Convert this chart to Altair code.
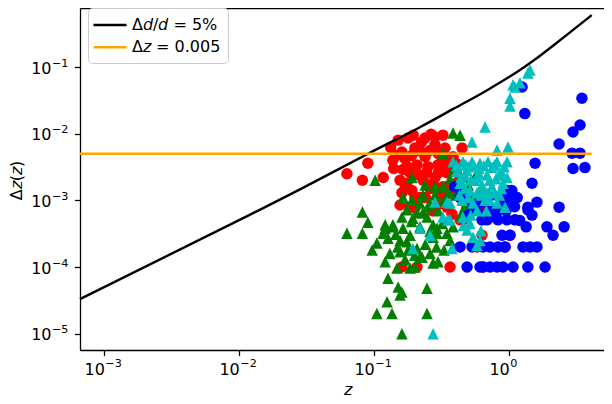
import altair as alt
import pandas as pd

# ---- data ----
red_z = [0.063, 0.082, 0.090, 0.117, 0.151, 0.179, 0.239, 0.283, 0.324, 0.138,
         0.161, 0.201, 0.239, 0.283, 0.336, 0.175, 0.208, 0.251, 0.298, 0.156,
         0.191, 0.231, 0.283, 0.161, 0.201, 0.156, 0.201, 0.347, 0.347, 0.449,
         0.164, 0.274, 0.324, 0.347, 0.185, 0.219, 0.347, 0.378, 0.456, 0.489,
         0.631, 0.687, 0.631, 1.017, 0.579, 0.934, 0.161, 0.208, 0.366, 0.642,
         0.324, 0.347, 0.642, 0.434, 0.385, 0.300,
         0.133, 0.145, 0.170, 0.190, 0.220, 0.260, 0.310, 0.185, 0.215, 0.245,
         0.300, 0.140, 0.175, 0.260, 0.300, 0.240, 0.170, 0.270, 0.310, 0.225,
         0.195, 0.265, 0.360, 0.400, 0.420, 0.380, 0.405]
red_dz = [0.0025, 0.0020, 0.0036, 0.0022, 0.0080, 0.0086, 0.0086, 0.0089, 0.0095, 0.0040,
          0.0053, 0.0061, 0.0045, 0.0068, 0.0061, 0.0032, 0.0034, 0.0032, 0.0034, 0.0020,
          0.0014, 0.0020, 0.0022, 0.0013, 0.0011, 0.00085, 0.00077, 0.0032, 0.0016, 0.0061,
          0.0029, 0.0018, 0.0016, 0.0013, 0.00079, 0.0011, 0.00079, 0.00062, 0.00051, 0.00079,
          0.00079, 0.00072, 0.00030, 0.00030, 0.00020, 0.00020, 0.00010, 0.00010, 0.00010, 0.00010,
          0.0036, 0.0026, 0.0012, 0.00051, 0.0045, 0.0050,
          0.0062, 0.0047, 0.0042, 0.0047, 0.0055, 0.0056, 0.0048, 0.0026, 0.0024, 0.0026,
          0.0026, 0.0030, 0.0018, 0.0015, 0.0012, 0.0011, 0.0015, 0.0007, 0.0009, 0.0075,
          0.0095, 0.0098, 0.0042, 0.0030, 0.0019, 0.0012, 0.0036]

green_z = [0.102, 0.385, 0.434, 0.324, 0.191, 0.239, 0.283, 0.324, 0.164, 0.191,
           0.219, 0.082, 0.090, 0.063, 0.082, 0.121, 0.138, 0.161, 0.117, 0.127,
           0.105, 0.097, 0.156, 0.175, 0.131, 0.156, 0.170, 0.121, 0.148, 0.185,
           0.201, 0.219, 0.208, 0.274, 0.298, 0.127, 0.151, 0.161, 0.156, 0.247,
           0.125, 0.105, 0.136, 0.247, 0.161, 0.194, 0.219, 0.247, 0.274, 0.293,
           0.347, 0.366, 0.385, 0.175, 0.208, 0.121, 0.138, 0.164, 0.179, 0.227,
           0.293, 0.274, 0.434, 0.579, 0.541, 0.366, 0.412, 0.283, 0.251,
           0.230, 0.260, 0.300, 0.330, 0.360, 0.400, 0.190, 0.230, 0.260, 0.320,
           0.145, 0.185, 0.240, 0.290, 0.330, 0.150, 0.200, 0.260, 0.420, 0.390,
           0.460, 0.500, 0.470, 0.440]
green_dz = [0.0020, 0.0102, 0.0095, 0.0051, 0.0022, 0.0017, 0.0016, 0.0016, 0.0011, 0.0010,
            0.00091, 0.00067, 0.00047, 0.00032, 0.00032, 0.00043, 0.00043, 0.00056, 0.00032, 0.00027,
            0.00023, 0.00018, 0.00025, 0.00024, 0.00016, 0.00017, 0.00013, 0.00012, 0.000097, 0.000097,
            0.00010, 0.00014, 0.00019, 0.000115, 0.00012, 0.000068, 0.000050, 0.000042, 0.000038, 0.000048,
            0.000030, 0.000020, 0.000020, 0.000020, 0.000010, 0.00054, 0.00040, 0.00056, 0.00043, 0.00032,
            0.00032, 0.00025, 0.00040, 0.00072, 0.00065, 0.00038, 0.00040, 0.00038, 0.00018, 0.00014,
            0.00038, 0.00028, 0.0019, 0.0026, 0.0011, 0.0021, 0.0018, 0.0012, 0.0008,
            0.0012, 0.0009, 0.0007, 0.0010, 0.0013, 0.0012, 0.00048, 0.00065, 0.00034, 0.00045,
            0.00031, 0.00030, 0.00022, 0.00020, 0.00018, 0.00020, 0.00015, 0.00016, 0.0028, 0.0030,
            0.0022, 0.0017, 0.0008, 0.0006]

blue_z = [3.47, 3.36, 2.98, 2.35, 2.93, 3.36, 2.98, 3.65, 1.31, 1.25,
          1.56, 1.48, 1.61, 1.38, 1.48, 2.35, 1.34, 1.91, 2.12, 2.56,
          0.888, 1.017, 0.687, 0.829, 0.967, 1.108,
          0.434, 0.532, 0.642, 0.723, 0.829, 0.934, 1.27, 1.43, 1.61,
          0.489, 0.610, 0.642, 0.723, 0.815, 0.903, 1.071, 1.38, 1.85,
          0.412, 0.489, 0.541, 0.631, 0.723, 0.858, 1.017, 1.05, 0.434, 0.456,
          0.967, 0.903, 0.723, 0.541, 0.80, 1.38, 0.398,
          0.60, 0.75, 0.90, 0.50, 0.65, 0.95, 1.10, 1.20, 1.15]
blue_dz = [0.034, 0.0135, 0.0106, 0.0070, 0.0051, 0.0051, 0.0030, 0.0031, 0.020, 0.050,
           0.0036, 0.0018, 0.00094, 0.00079, 0.00060, 0.00079, 0.00040, 0.00040, 0.00030, 0.00040,
           0.00030, 0.00030, 0.00051, 0.00051, 0.00051, 0.00051,
           0.0002, 0.0002, 0.0002, 0.0002, 0.0002, 0.0002, 0.0002, 0.0002, 0.0002,
           0.0001, 0.0001, 0.0001, 0.0001, 0.0001, 0.0001, 0.0001, 0.0001, 0.0001,
           0.0016, 0.0010, 0.00072, 0.00051, 0.00056, 0.00079, 0.0010, 0.0014, 0.0011, 0.0013,
           0.0014, 0.00079, 0.00079, 0.00079, 0.00063, 0.00072, 0.0016,
           0.0009, 0.0012, 0.0011, 0.0006, 0.00062, 0.0007, 0.0008, 0.0005, 0.0011]

cyan_z = [1.017, 1.017, 1.071, 1.206, 1.108, 1.38, 1.43, 0.664, 0.532, 0.815, 0.983,
          0.385, 0.456, 0.532, 0.610, 0.699, 0.815, 0.967,
          0.412, 0.489, 0.579, 0.687, 0.858, 0.967,
          0.434, 0.514, 0.631, 0.748, 0.903,
          0.449, 0.541, 0.664, 0.815, 0.934,
          0.283, 0.366, 0.324, 0.353, 0.219, 0.260, 0.489, 0.541, 0.610, 0.378,
          0.579, 0.194, 0.274, 0.347, 0.456, 0.514, 0.366,
          0.50, 0.75, 0.60, 0.56, 0.70, 0.62, 0.85, 0.47,
          0.41, 0.48, 0.55, 0.65, 0.78, 0.92, 0.44, 0.52, 0.60, 0.72,
          0.80, 0.90, 0.47, 0.58, 0.66, 0.78, 0.88, 0.50, 0.72, 0.58,
          0.68, 0.52, 0.46, 0.62, 0.43]
cyan_dz = [0.026, 0.034, 0.054, 0.058, 0.050, 0.081, 0.090, 0.0126, 0.0075, 0.0057, 0.0063,
           0.0038, 0.0038, 0.0038, 0.0036, 0.0038, 0.0038, 0.0038,
           0.0027, 0.0028, 0.0022, 0.0024, 0.0026, 0.0022,
           0.0018, 0.0014, 0.0017, 0.0016, 0.0018,
           0.0010, 0.00091, 0.0010, 0.00091, 0.00079,
           0.00094, 0.00091, 0.00056, 0.00051, 0.00038, 0.00030, 0.00036, 0.00028, 0.00025, 0.00019,
           0.00021, 0.00019, 0.000010, 0.00094, 0.00056, 0.00045, 0.00051,
           0.0032, 0.0031, 0.0030, 0.0020, 0.0013, 0.0012, 0.0012, 0.0024,
           0.0033, 0.0034, 0.0033, 0.0033, 0.0034, 0.0032, 0.0022, 0.0020, 0.0025, 0.0020,
           0.0021, 0.0024, 0.0015, 0.0013, 0.0014, 0.0013, 0.0015, 0.0011, 0.0010, 0.0007,
           0.0007, 0.0006, 0.00042, 0.00035, 0.0012]

dd_z = [0.000664, 0.0121, 0.0283, 0.0903, 0.219, 0.387, 0.684, 1.206, 1.604, 2.13, 2.83, 4.1]
dd_dz = [3.3e-5, 6.1e-4, 0.00146, 0.0050, 0.0125, 0.0235, 0.0445, 0.0902, 0.135, 0.21,
         0.33, 0.60]
thr_z = [0.000664, 4.1]
thr_dz = [0.005, 0.005]

LAB_DD = "Δ𝘥/𝘥 = 5%"
LAB_THR = "Δ𝘻 = 0.005"

x_major = [1e-3, 1e-2, 1e-1, 1.0]
x_exp = ["−3", "−2", "−1", "0"]
y_major = [1e-5, 1e-4, 1e-3, 1e-2, 1e-1]
y_exp = ["−5", "−4", "−3", "−2", "−1"]
X_DOMAIN = [6.64e-4, 5.055]
Y_DOMAIN = [5.69e-6, 0.767]
x_minor = [m * 10.0 ** e for e in range(-4, 1) for m in range(2, 10)
           if X_DOMAIN[0] <= m * 10.0 ** e <= X_DOMAIN[1]]
y_minor = [m * 10.0 ** e for e in range(-6, 0) for m in range(2, 10)
           if Y_DOMAIN[0] <= m * 10.0 ** e <= Y_DOMAIN[1]]

# ---- tables ----
red = pd.DataFrame({"z": red_z, "dz": red_dz})
green = pd.DataFrame({"z": green_z, "dz": green_dz})
blue = pd.DataFrame({"z": blue_z, "dz": blue_dz})
cyan = pd.DataFrame({"z": cyan_z, "dz": cyan_dz})
lines = pd.concat([
    pd.DataFrame({"z": dd_z, "dz": dd_dz, "series": LAB_DD}),
    pd.DataFrame({"z": thr_z, "dz": thr_dz, "series": LAB_THR}),
])
xexp = pd.DataFrame({"v": x_major, "t": x_exp})
yexp = pd.DataFrame({"v": y_major, "t": y_exp})

FONT = "DejaVu Sans"
FS = 16
SUP = 11.2
W, H = 524, 342
xs = alt.Scale(type="log", domain=X_DOMAIN, nice=False, zero=False)
ys = alt.Scale(type="log", domain=Y_DOMAIN, nice=False, zero=False)

ax_x_major = alt.Axis(values=x_major, labelExpr="'10'", tickSize=5.6, tickWidth=1.28,
                      tickColor="black", domainColor="black", domainWidth=1.28,
                      labelColor="black", labelFont=FONT, labelFontSize=FS,
                      labelAlign="right", labelBaseline="alphabetic", labelOffset=0.3,
                      labelPadding=18.4, labelFlush=False, labelOverlap=False, grid=False,
                      title="𝘻", titleFont=FONT, titleFontSize=FS, titleFontWeight="normal",
                      titleColor="black", titleX=267, titleY=44, titleAlign="center",
                      titleBaseline="alphabetic")
ax_x_minor = alt.Axis(values=x_minor, tickSize=3.2, tickWidth=0.96, tickColor="black",
                      labels=False, domain=False, grid=False, title=None)
ax_x_top = alt.Axis(orient="top", ticks=False, labels=False, domain=True,
                    domainColor="black", domainWidth=1.28, grid=False, title=None)
ax_y_major = alt.Axis(values=y_major, labelExpr="'10'", tickSize=5.6, tickWidth=1.28,
                      tickColor="black", domainColor="black", domainWidth=1.28,
                      labelColor="black", labelFont=FONT, labelFontSize=FS,
                      labelAlign="right", labelBaseline="alphabetic", labelOffset=6.3,
                      labelPadding=23.4, labelFlush=False, labelOverlap=False, grid=False,
                      title="Δ𝘻(𝘻)", titleFont=FONT, titleFontSize=FS,
                      titleFontWeight="normal", titleColor="black", titleX=-59, titleY=172,
                      titleAngle=270, titleAlign="center", titleBaseline="alphabetic")
ax_y_minor = alt.Axis(values=y_minor, tickSize=3.2, tickWidth=0.96, tickColor="black",
                      labels=False, domain=False, grid=False, title=None)

TRI = "M0,-1L1,1L-1,1Z"


def scatter(df, color, shape, axx, axy):
    return alt.Chart(df).mark_point(filled=True, shape=shape, size=132, color=color,
                                    opacity=1, strokeWidth=0).encode(
        x=alt.X("z:Q", scale=xs, axis=axx),
        y=alt.Y("dz:Q", scale=ys, axis=axy),
    )


l_red = scatter(red, "#ff0000", "circle", ax_x_major, ax_y_major)
l_green = scatter(green, "#008000", TRI, ax_x_minor, ax_y_minor)
l_blue = scatter(blue, "#0000ff", "circle", ax_x_top, None)
l_cyan = scatter(cyan, "#00bfbf", TRI, None, None)

l_lines = alt.Chart(lines).mark_line(strokeWidth=2.4, interpolate="monotone").encode(
    x=alt.X("z:Q", scale=xs, axis=None),
    y=alt.Y("dz:Q", scale=ys, axis=None),
    color=alt.Color("series:N",
                    scale=alt.Scale(domain=[LAB_DD, LAB_THR], range=["black", "orange"]),
                    legend=alt.Legend(title=None, orient="none", legendX=8, legendY=0,
                                      padding=7.5, symbolType="M-2,0H2", symbolSize=272,
                                      symbolStrokeWidth=2.4, symbolOffset=5,
                                      labelOffset=12.5, labelFont=FONT, labelFontSize=FS,
                                      labelColor="black", rowPadding=4.2,
                                      strokeColor="#cccccc", fillColor="white",
                                      cornerRadius=4)),
)

# superscript exponents of the tick labels
l_xexp = alt.Chart(xexp).mark_text(align="left", baseline="alphabetic", font=FONT,
                                   fontSize=SUP, color="black", dx=1.3).encode(
    x=alt.X("v:Q", scale=xs, axis=None),
    y=alt.value(H + 17.4),
    text="t:N",
)
l_yexp = alt.Chart(yexp).mark_text(align="left", baseline="alphabetic", font=FONT,
                                   fontSize=SUP, color="black", dy=-0.3).encode(
    y=alt.Y("v:Q", scale=ys, axis=None),
    x=alt.value(-28),
    text="t:N",
)

chart = alt.layer(l_red, l_green, l_blue, l_cyan, l_lines, l_xexp, l_yexp).resolve_axis(
    x="independent", y="independent"
).properties(
    width=W, height=H,
    autosize=alt.AutoSizeParams(type="none"),
    padding={"left": 72, "top": 0, "right": 0, "bottom": 50},
).configure_view(stroke=None).configure(font=FONT)

chart.save("out.html", embed_options={"renderer": "svg", "actions": False})
